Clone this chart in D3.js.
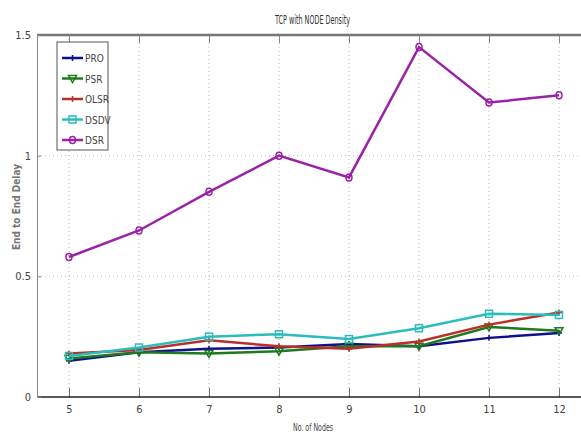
<!DOCTYPE html>
<html>
<head>
<meta charset="utf-8">
<script src="https://cdn.jsdelivr.net/npm/d3@7"></script>
<style>
  body { margin: 0; background: #fff; }
  text { font-family: "DejaVu Sans Condensed", "Liberation Sans Narrow", sans-serif; }
</style>
</head>
<body>
<div id="wrapper"></div>
<script>
const nodes = [5, 6, 7, 8, 9, 10, 11, 12]
const pro  = [0.15, 0.185, 0.20, 0.205, 0.22, 0.21, 0.245, 0.265]
const psr  = [0.16, 0.185, 0.18, 0.19, 0.21, 0.21, 0.29, 0.275]
const olsr = [0.18, 0.195, 0.235, 0.21, 0.20, 0.23, 0.30, 0.35]
const dsdv = [0.17, 0.205, 0.25, 0.26, 0.24, 0.285, 0.345, 0.34]
const dsr  = [0.58, 0.69, 0.85, 1.00, 0.91, 1.45, 1.22, 1.25]
const yTicks = [0, 0.5, 1, 1.5]
const yTickLabels = ["0", "0.5", "1", "1.5"]

const series = [
  {name: "PRO",  values: pro,  color: "#10108a", marker: "plus"},
  {name: "PSR",  values: psr,  color: "#1e7a1e", marker: "tri"},
  {name: "OLSR", values: olsr, color: "#b8302a", marker: "plus"},
  {name: "DSDV", values: dsdv, color: "#2cbcbc", marker: "square"},
  {name: "DSR",  values: dsr,  color: "#9a22a6", marker: "circle"}
]

let dimensions = {
  width: 581,
  height: 433,
  margin: {top: 35, right: 0, bottom: 36, left: 37}
}
dimensions.boundedWidth = dimensions.width - dimensions.margin.left - dimensions.margin.right
dimensions.boundedHeight = dimensions.height - dimensions.margin.top - dimensions.margin.bottom

const svg = d3.select("#wrapper")
  .append("svg")
    .attr("width", dimensions.width)
    .attr("height", dimensions.height)

const bounds = svg.append("g")
    .attr("transform", `translate(${dimensions.margin.left},${dimensions.margin.top})`)

const xScale = d3.scaleLinear()
    .domain([5, 12])
    .range([32, 522])

const yScale = d3.scaleLinear()
    .domain([0, 1.5])
    .range([dimensions.boundedHeight, 0])

// grid
bounds.append("g")
  .selectAll("line")
  .data(nodes)
  .join("line")
    .attr("x1", d => xScale(d)).attr("x2", d => xScale(d))
    .attr("y1", 0).attr("y2", dimensions.boundedHeight)
    .attr("stroke", "#bbb")
    .attr("stroke-dasharray", "1,3")
bounds.append("g")
  .selectAll("line")
  .data([0.5, 1])
  .join("line")
    .attr("x1", 0).attr("x2", dimensions.boundedWidth)
    .attr("y1", d => yScale(d)).attr("y2", d => yScale(d))
    .attr("stroke", "#bbb")
    .attr("stroke-dasharray", "1,3")

// axes
const xAxis = bounds.append("g")
    .attr("transform", `translate(0,${dimensions.boundedHeight})`)
    .call(d3.axisBottom(xScale).tickValues(nodes).tickFormat(d3.format("d"))
      .tickSizeInner(-9).tickSizeOuter(0).tickPadding(8))
xAxis.select(".domain").remove()
xAxis.selectAll(".tick line").attr("stroke", "#777")
xAxis.selectAll("text").attr("font-size", 11).attr("fill", "#444")

const topAxis = bounds.append("g")
    .call(d3.axisTop(xScale).tickValues(nodes).tickSizeInner(-8).tickSizeOuter(0).tickFormat(""))
topAxis.select(".domain").remove()
topAxis.selectAll(".tick line").attr("stroke", "#888")

// frame lines across the full plot width
bounds.append("line")
    .attr("x1", 0).attr("x2", dimensions.boundedWidth)
    .attr("y1", 0).attr("y2", 0)
    .attr("stroke", "#777").attr("stroke-width", 2.5)
bounds.append("line")
    .attr("x1", 0).attr("x2", dimensions.boundedWidth)
    .attr("y1", dimensions.boundedHeight).attr("y2", dimensions.boundedHeight)
    .attr("stroke", "#222").attr("stroke-width", 1.5)

const yAxis = bounds.append("g")
    .call(d3.axisLeft(yScale).tickValues(yTicks).tickFormat((d, i) => yTickLabels[i]).tickSizeInner(-4).tickSizeOuter(0).tickPadding(6))
yAxis.select(".domain").attr("stroke", "#888")
yAxis.selectAll(".tick line").attr("stroke", "#888")
yAxis.selectAll("text").attr("font-size", 11).attr("fill", "#444")

// lines
const lineGenerator = d3.line()
  .x((d, i) => xScale(nodes[i]))
  .y(d => yScale(d))

function drawMarker(g, type, color) {
  if (type === "plus") {
    g.append("path").attr("d", "M-3,0H3M0,-3V3").attr("stroke", color).attr("stroke-width", 1.5)
  } else if (type === "tri") {
    g.append("path").attr("d", "M-4,-3L4,-3L0,4Z").attr("fill", "none").attr("stroke", color).attr("stroke-width", 1.5)
  } else if (type === "square") {
    g.append("rect").attr("x", -3.5).attr("y", -3.5).attr("width", 7).attr("height", 7)
      .attr("fill", "none").attr("stroke", color).attr("stroke-width", 1.5)
  } else {
    g.append("ellipse").attr("rx", 3).attr("ry", 3.5)
      .attr("fill", "none").attr("stroke", color).attr("stroke-width", 1.5)
  }
}

series.forEach(s => {
  bounds.append("path")
      .attr("d", lineGenerator(s.values))
      .attr("fill", "none")
      .attr("stroke", s.color)
      .attr("stroke-width", 2.5)
  s.values.forEach((v, i) => {
    const g = bounds.append("g").attr("transform", `translate(${xScale(nodes[i])},${yScale(v)})`)
    drawMarker(g, s.marker, s.color)
  })
})

// legend
const legend = svg.append("g").attr("transform", "translate(57,42)")
legend.append("rect")
    .attr("width", 51).attr("height", 108)
    .attr("fill", "#fff").attr("stroke", "#555")
series.forEach((s, i) => {
  const ly = 16 + i * 20.5
  legend.append("line")
      .attr("x1", 5).attr("x2", 26).attr("y1", ly).attr("y2", ly)
      .attr("stroke", s.color).attr("stroke-width", 2.5)
  const g = legend.append("g").attr("transform", `translate(15.5,${ly})`)
  drawMarker(g, s.marker, s.color)
  legend.append("text")
      .attr("x", 28).attr("y", ly + 4)
      .attr("font-size", 10)
      .attr("fill", "#444")
      .text(s.name)
})

// labels
svg.append("text")
    .attr("x", 275).attr("y", 24)
    .attr("font-size", 12)
    .attr("textLength", 75)
    .attr("lengthAdjust", "spacingAndGlyphs")
    .attr("fill", "#333")
    .text("TCP with NODE Density")

svg.append("text")
    .attr("x", 293).attr("y", 431)
    .attr("font-size", 11)
    .attr("textLength", 40)
    .attr("lengthAdjust", "spacingAndGlyphs")
    .attr("fill", "#444")
    .text("No. of Nodes")

svg.append("text")
    .attr("transform", "translate(20,207) rotate(-90)")
    .attr("text-anchor", "middle")
    .attr("font-size", 10)
    .attr("font-weight", "bold")
    .attr("fill", "#777")
    .attr("font-family", "DejaVu Sans")
    .text("End to End Delay")
</script>
</body>
</html>
